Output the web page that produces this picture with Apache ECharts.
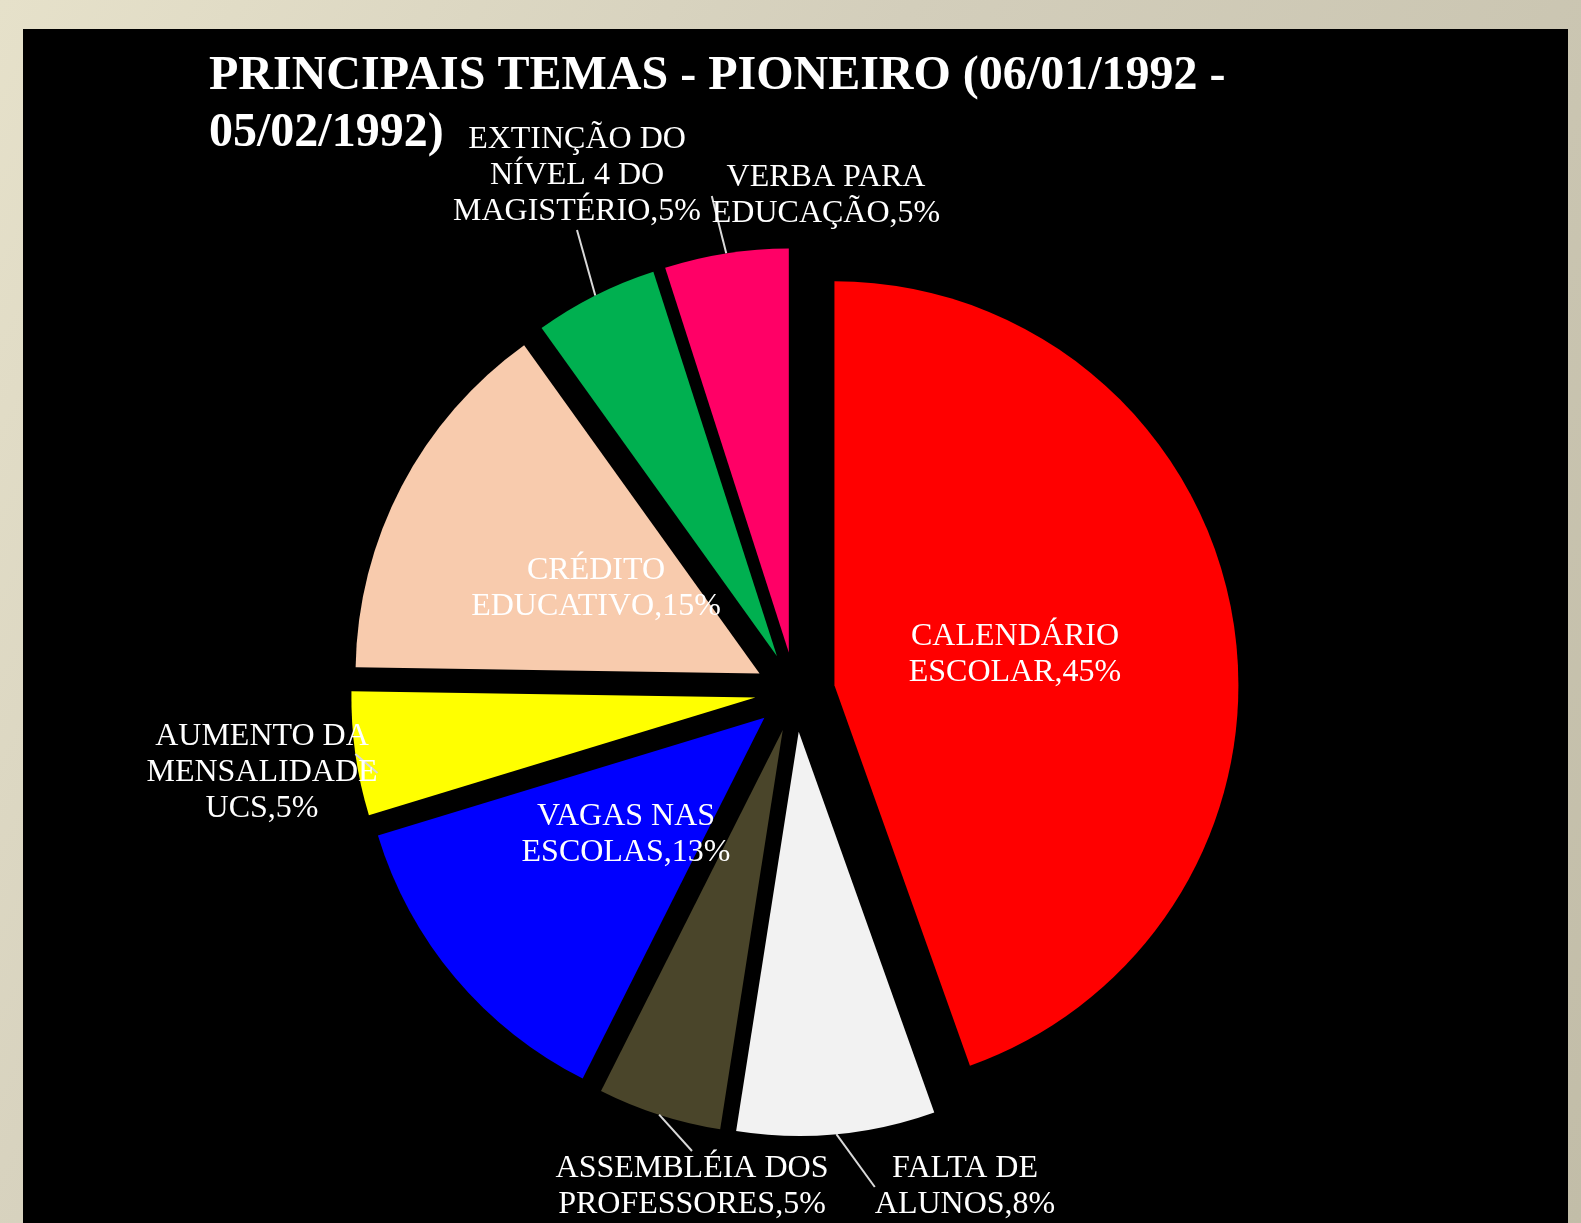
<!DOCTYPE html>
<html>
<head>
<meta charset="utf-8">
<script src="https://cdn.jsdelivr.net/npm/echarts@6/dist/echarts.min.js"></script>
<style>
  html, body { margin: 0; padding: 0; }
  body {
    width: 1581px; height: 1223px; overflow: hidden; position: relative;
    background: linear-gradient(120deg, #e6e1ca 0%, #d3cebb 40%, #c2bda8 100%);
  }
  #pieMain { position: absolute; left: 23px; top: 29px; width: 1545px; height: 1194px; background: #000; }
</style>
</head>
<body>
<div id="pieMain"></div>
<script>
// categories and values (percent), clockwise from 12 o'clock
var categories = [
    'CALENDÁRIO\nESCOLAR',
    'FALTA DE\nALUNOS',
    'ASSEMBLÉIA DOS\nPROFESSORES',
    'VAGAS NAS\nESCOLAS',
    'AUMENTO DA\nMENSALIDADE\nUCS',
    'CRÉDITO\nEDUCATIVO',
    'EXTINÇÃO DO\nNÍVEL 4 DO\nMAGISTÉRIO',
    'VERBA PARA\nEDUCAÇÃO'
];
var values = [45, 8, 5, 13, 5, 15, 5, 5];
var colors = ['#ff0000', '#f2f2f2', '#4a452a', '#0000ff', '#ffff00', '#f8cbad', '#00b050', '#ff0066'];

// label centres (chart pixels) and which ones sit inside a slice
var labelPos = [[992, 626], [942, 1158], [669, 1158], [603, 806], [239, 744], [573, 560], [554, 147], [803, 167]];
var insideLabel = [true, false, false, true, false, true, false, false];

var pieCenter = [772, 663];
var pieRadius = 404;
var explode = 40;

var myChart = echarts.init(document.getElementById('pieMain'));

// exploded slices
var sliceData = categories.map(function (name, i) {
    return { name: name, value: values[i], selected: true, itemStyle: { color: colors[i] } };
});

// same slices, invisible, only carrying the labels
var labelData = categories.map(function (name, i) {
    return {
        name: name,
        value: values[i],
        labelLine: { show: !insideLabel[i] }
    };
});

myChart.setOption({
    animation: false,
    backgroundColor: '#000',
    title: {
        text: 'PRINCIPAIS TEMAS - PIONEIRO (06/01/1992 -\n05/02/1992)',
        left: 181,
        top: 14,
        textStyle: {
            color: '#fff',
            fontFamily: 'Liberation Serif',
            fontWeight: 'bold',
            fontSize: 48,
            lineHeight: 57
        }
    },
    series: [{
        type: 'pie',
        z: 2,
        center: pieCenter,
        radius: pieRadius,
        startAngle: 90,
        clockwise: true,
        selectedMode: 'multiple',
        selectedOffset: explode,
        emphasis: { scale: false },
        select: { itemStyle: { borderWidth: 0 } },
        label: { show: false },
        labelLine: { show: false },
        data: sliceData
    }, {
        type: 'pie',
        z: 5,
        silent: true,
        center: pieCenter,
        radius: pieRadius + explode,
        startAngle: 90,
        clockwise: true,
        itemStyle: { color: 'rgba(0,0,0,0)' },
        avoidLabelOverlap: false,
        label: {
            formatter: '{b},{c}%',
            color: '#fff',
            fontFamily: 'Liberation Serif',
            fontSize: 32,
            lineHeight: 36,
            align: 'center'
        },
        labelLine: {
            length: 15,
            length2: 0,
            lineStyle: { color: '#d9d9d9', width: 2 }
        },
        labelLayout: function (params) {
            var p = labelPos[params.dataIndex];
            return { x: p[0], y: p[1], align: 'center', verticalAlign: 'middle', hideOverlap: false };
        },
        data: labelData
    }]
});
</script>
</body>
</html>
